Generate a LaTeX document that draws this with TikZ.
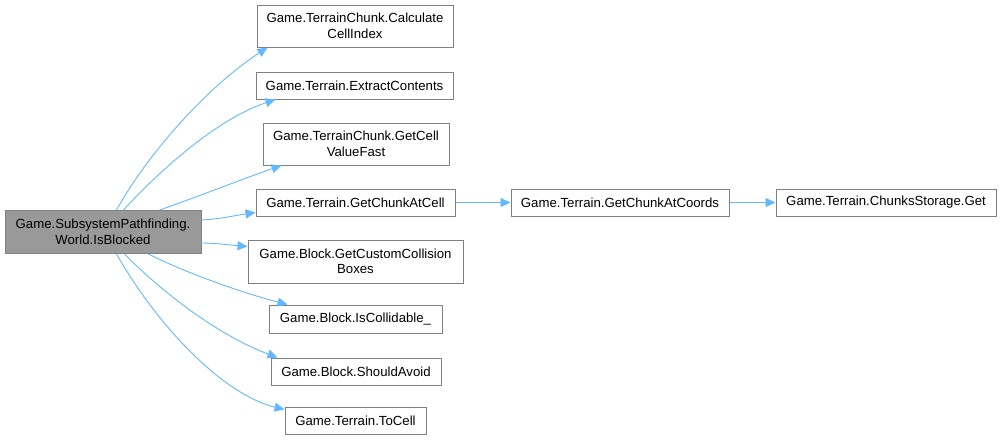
\documentclass[tikz,border=0pt]{standalone}
\usepackage{fontspec}
\setmainfont{Liberation Sans}
\usetikzlibrary{arrows.meta}
\definecolor{edgeblue}{HTML}{63B8FF}
\definecolor{boxborder}{HTML}{808080}
\definecolor{mainfill}{HTML}{999999}
\begin{document}
\begin{tikzpicture}[x=1pt,y=-1pt,
  fn/.style={draw=boxborder,line width=1pt,fill=white,rectangle,inner sep=0pt,align=center,
    font=\fontsize{13.2}{15.5}\selectfont},
  mainbox/.style={fn,fill=mainfill,draw=boxborder},
  call/.style={draw=edgeblue,line width=0.9pt,-{Triangle[length=10pt,width=9pt,fill=edgeblue]}}]
\useasboundingbox (0,0) rectangle (1000,440);
\node[mainbox,minimum width=196pt,minimum height=43pt] (main) at (103,232) {Game.SubsystemPathfinding.\\World.IsBlocked};
\node[fn,minimum width=196pt,minimum height=42pt] (n1) at (355,26) {Game.TerrainChunk.Calculate\\CellIndex};
\node[fn,minimum width=197pt,minimum height=27pt] (n2) at (354.5,85.5) {Game.Terrain.ExtractContents};
\node[fn,minimum width=186pt,minimum height=42pt] (n3) at (356,144) {Game.TerrainChunk.GetCell\\ValueFast};
\node[fn,minimum width=199pt,minimum height=27pt] (n4) at (355.5,202.5) {Game.Terrain.GetChunkAtCell};
\node[fn,minimum width=215pt,minimum height=43pt] (n5) at (355.5,261.5) {Game.Block.GetCustomCollision\\Boxes};
\node[fn,minimum width=173pt,minimum height=28pt] (n6) at (355.5,319) {Game.Block.IsCollidable\_};
\node[fn,minimum width=170pt,minimum height=27pt] (n7) at (356,371.5) {Game.Block.ShouldAvoid};
\node[fn,minimum width=141pt,minimum height=27pt] (n8) at (355.5,420.5) {Game.Terrain.ToCell};
\node[fn,minimum width=218pt,minimum height=27pt] (n9) at (620,202.5) {Game.Terrain.GetChunkAtCoords};
\node[fn,minimum width=220pt,minimum height=27pt] (n10) at (886,202.5) {Game.Terrain.ChunksStorage.Get};
% edges
\draw[call] ([xshift=112pt]main.north west) .. controls (150,150) and (210,85) .. ([xshift=11pt]n1.south west);
\draw[call] ([xshift=119pt]main.north west) .. controls (165,165) and (220,118) .. ([xshift=20pt]n2.south west);
\draw[call] ([xshift=155pt]main.north west) .. controls (200,196) and (245,178) .. ([xshift=19pt]n3.south west);
\draw[call] ([yshift=-10pt]main.north east) .. controls (220,219) and (238,215) .. ([yshift=4pt]n4.south west);
\draw[call] ([yshift=11pt]main.south east) .. controls (215,243) and (230,245) .. ([yshift=15pt]n5.west);
\draw[call] ([xshift=144pt]main.south west) .. controls (190,275) and (250,295) .. ([xshift=19pt]n6.north west);
\draw[call] ([xshift=120pt]main.south west) .. controls (170,300) and (225,338) .. ([xshift=7pt]n7.north west);
\draw[call] ([xshift=112pt]main.south west) .. controls (160,330) and (225,395) .. ([yshift=-3pt]n8.north west);
\draw[call] (n4) -- (n9);
\draw[call] (n9) -- (n10);
\end{tikzpicture}
\end{document}
